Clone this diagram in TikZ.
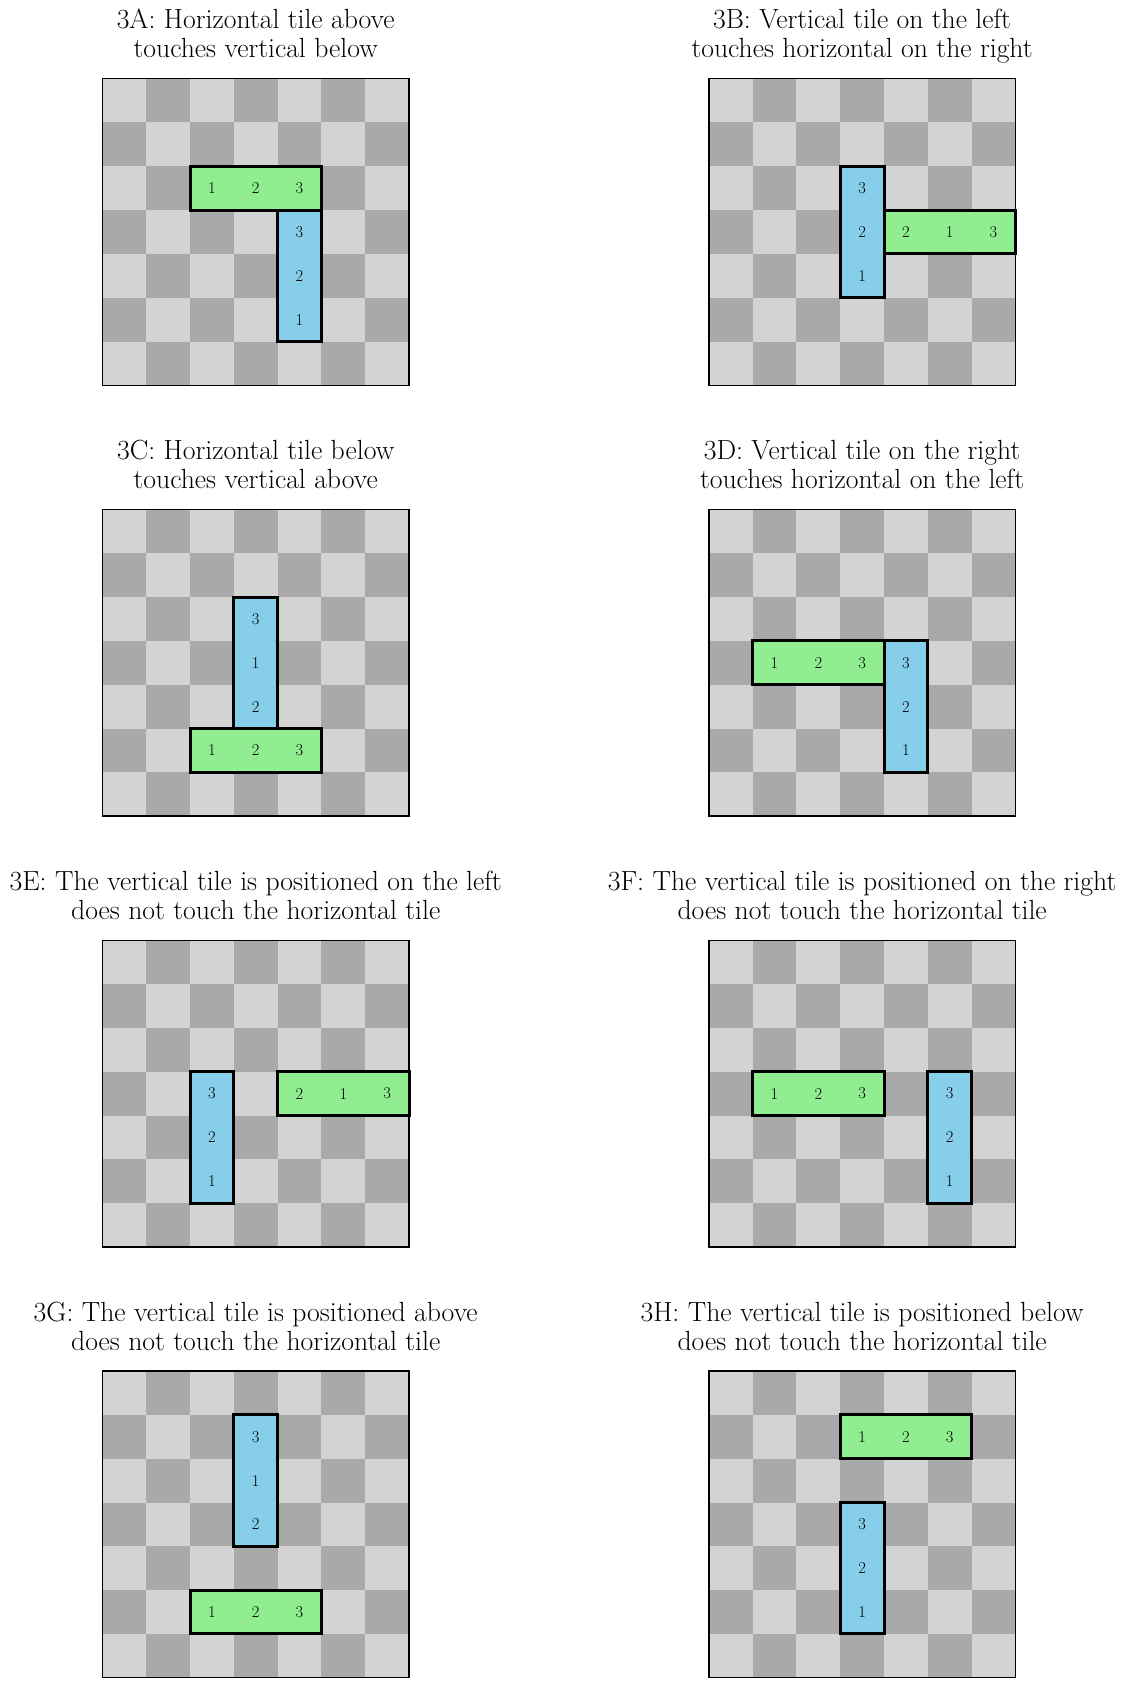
\documentclass[tikz,border=0pt]{standalone}
\usepackage{fontspec}
\definecolor{lg}{HTML}{D3D3D3}
\definecolor{dg}{HTML}{A9A9A9}
\definecolor{tgreen}{HTML}{90EE90}
\definecolor{tblue}{HTML}{87CEEB}
\tikzset{
  tileline/.style={draw=black, line width=3pt, line join=miter},
  digit/.style={font=\fontsize{16.5}{18}\selectfont, inner sep=0pt},
  titletext/.style={font=\fontsize{27.7}{30}\selectfont, anchor=base, inner sep=0pt},
  boardline/.style={draw=black, line width=1.5pt}
}
\newcommand{\htile}[5]{%
  \draw[tileline, fill=tgreen] (#1,#2) rectangle ++(3,1);
  \node[digit] (\pid-h1) at (#1+0.5,#2+0.5) {#3};
  \node[digit] (\pid-h2) at (#1+1.5,#2+0.5) {#4};
  \node[digit] (\pid-h3) at (#1+2.5,#2+0.5) {#5};
}
\newcommand{\vtile}[5]{%
  \draw[tileline, fill=tblue] (#1,#2) rectangle ++(1,3);
  \node[digit] (\pid-v1) at (#1+0.5,#2+0.5) {#3};
  \node[digit] (\pid-v2) at (#1+0.5,#2+1.5) {#4};
  \node[digit] (\pid-v3) at (#1+0.5,#2+2.5) {#5};
}
\newcommand{\panel}[6]{%
  \begin{scope}[shift={(#1,#2)}]
  \begin{scope}[x=43.8pt,y=-43.8pt]
  \def\pid{#3}
  \foreach \r in {0,...,6}{\foreach \c in {0,...,6}{
    \pgfmathtruncatemacro{\p}{mod(\r+\c,2)}
    \ifnum\p=0 \fill[lg] (\c,\r) rectangle ++(1,1);
    \else \fill[dg] (\c,\r) rectangle ++(1,1);\fi
  }}
  \draw[boardline] (0,0) rectangle (7,7);
  \node[titletext] (#3-t1) at (3.5,-1.14) {#4};
  \node[titletext] (#3-t2) at (3.5,-0.48) {#5};
  #6
  \end{scope}
  \end{scope}
}
\begin{document}
\begin{tikzpicture}[x=1pt,y=-1pt]
\useasboundingbox (0,0) rectangle (1126,1688);
\panel{102.4}{78.7}{A}{3A: Horizontal tile above}{touches vertical below}{%
  \htile{2}{2}{1}{2}{3}\vtile{4}{3}{3}{2}{1}}
\panel{708.8}{78.7}{B}{3B: Vertical tile on the left}{touches horizontal on the right}{%
  \vtile{3}{2}{3}{2}{1}\htile{4}{3}{2}{1}{3}}
\panel{102.4}{509.5}{C}{3C: Horizontal tile below}{touches vertical above}{%
  \vtile{3}{2}{3}{1}{2}\htile{2}{5}{1}{2}{3}}
\panel{708.8}{509.5}{D}{3D: Vertical tile on the right}{touches horizontal on the left}{%
  \htile{1}{3}{1}{2}{3}\vtile{4}{3}{3}{2}{1}}
\panel{102.4}{940.3}{E}{3E: The vertical tile is positioned on the left}{does not touch the horizontal tile}{%
  \vtile{2}{3}{3}{2}{1}\htile{4}{3}{2}{1}{3}}
\panel{708.8}{940.3}{F}{3F: The vertical tile is positioned on the right}{does not touch the horizontal tile}{%
  \htile{1}{3}{1}{2}{3}\vtile{5}{3}{3}{2}{1}}
\panel{102.4}{1371.1}{G}{3G: The vertical tile is positioned above}{does not touch the horizontal tile}{%
  \vtile{3}{1}{3}{1}{2}\htile{2}{5}{1}{2}{3}}
\panel{708.8}{1371.1}{H}{3H: The vertical tile is positioned below}{does not touch the horizontal tile}{%
  \htile{3}{1}{1}{2}{3}\vtile{3}{3}{3}{2}{1}}
\end{tikzpicture}
\end{document}
